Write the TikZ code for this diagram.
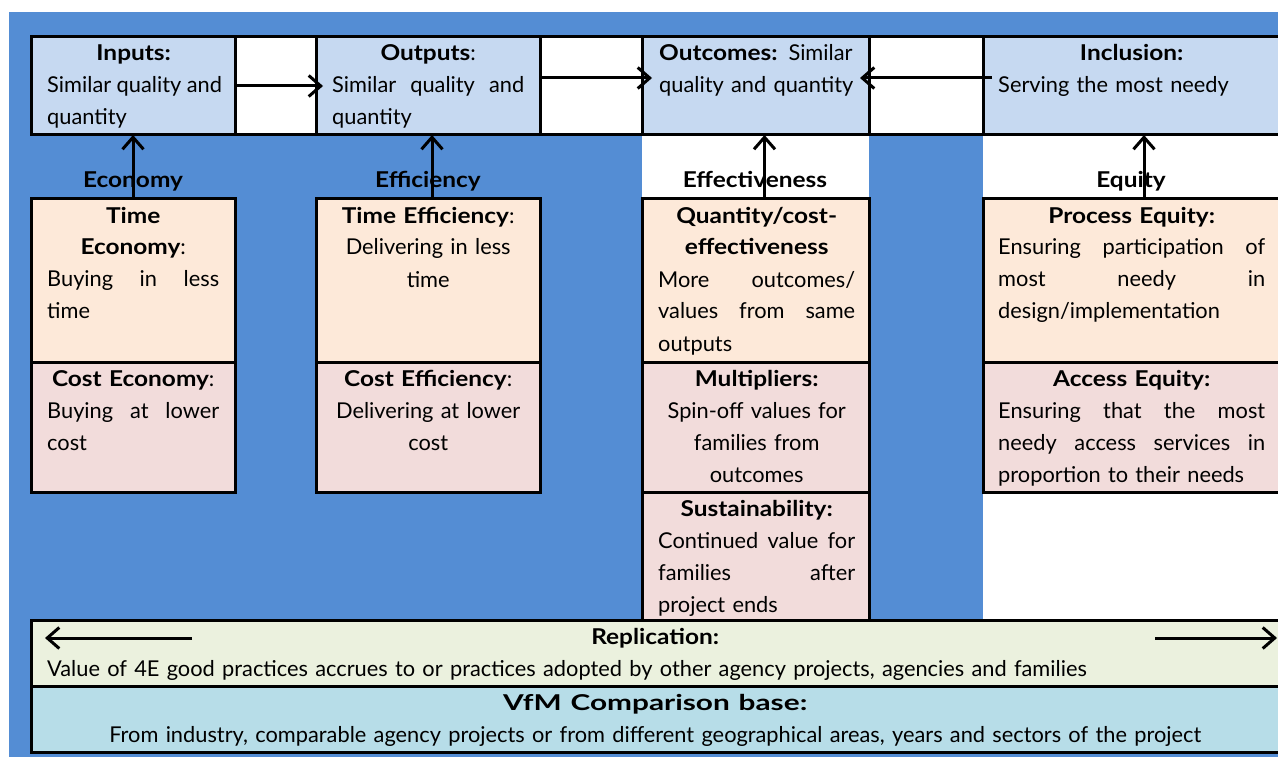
\documentclass[tikz,border=0pt]{standalone}
\usepackage{fontspec}
\setmainfont{Lato}[BoldFeatures={FakeStretch=1.12}]
\usetikzlibrary{arrows.meta}
\definecolor{bgblue}{RGB}{84,141,212}
\definecolor{lblue}{RGB}{198,217,241}
\definecolor{cpeach}{RGB}{253,233,217}
\definecolor{cpink}{RGB}{242,220,219}
\definecolor{cgreen}{RGB}{235,241,222}
\definecolor{cteal}{RGB}{183,221,232}
\newcommand{\jline}[1]{\makebox[\linewidth][s]{\spaceskip=0.25em plus 1fill\relax #1}}
\newcommand{\lline}[1]{\makebox[\linewidth][l]{#1}}
\begin{document}
\begin{tikzpicture}[x=1pt,y=-1pt,
  cell/.style={draw=black,line width=3pt,anchor=north west,inner sep=0pt,outer sep=0pt},
  txt/.style={anchor=base west,inner sep=0pt,align=center,font=\fontsize{21.8}{32}\selectfont},
  head/.style={anchor=base,inner sep=0pt,font=\fontsize{21.8}{32}\selectfont\bfseries},
  arr/.style={line width=3pt,-{Straight Barb[length=12pt,width=21pt]}}]
\useasboundingbox (0,0) rectangle (1278,757);
\clip (0,0) rectangle (1278,757);
\fill[white] (0,0) rectangle (1278,757);
\fill[bgblue] (9,12) rectangle (1278,757);
\fill[white] (642,135) rectangle (869,199);
\fill[white] (983,135) rectangle (1278,620);
% top row
\node[cell,fill=white,minimum width=1260pt,minimum height=98pt] (toprow) at (31,37) {};
\node[cell,fill=lblue,minimum width=204pt,minimum height=98pt] (inputs) at (31,37) {};
\node[cell,fill=lblue,minimum width=224pt,minimum height=98pt] (outputs) at (316,37) {};
\node[cell,fill=lblue,minimum width=227pt,minimum height=98pt] (outcomes) at (642,37) {};
\node[cell,fill=lblue,minimum width=310pt,minimum height=98pt] (inclusion) at (983,37) {};
% lower boxes
\node[cell,fill=cpeach,minimum width=204pt,minimum height=163pt] (teco) at (31,199) {};
\node[cell,fill=cpink,minimum width=204pt,minimum height=130pt] (ceco) at (31,362) {};
\node[cell,fill=cpeach,minimum width=224pt,minimum height=163pt] (teff) at (316,199) {};
\node[cell,fill=cpink,minimum width=224pt,minimum height=130pt] (ceff) at (316,362) {};
\node[cell,fill=cpeach,minimum width=227pt,minimum height=163pt] (qty) at (642,199) {};
\node[cell,fill=cpink,minimum width=227pt,minimum height=130pt] (mult) at (642,362) {};
\node[cell,fill=cpink,minimum width=227pt,minimum height=128pt] (sust) at (642,492) {};
\node[cell,fill=cpeach,minimum width=310pt,minimum height=163pt] (peq) at (983,199) {};
\node[cell,fill=cpink,minimum width=310pt,minimum height=130pt] (aeq) at (983,362) {};
\node[cell,fill=cgreen,minimum width=1260pt,minimum height=66pt] (repl) at (31,620) {};
\node[cell,fill=cteal,minimum width=1260pt,minimum height=66pt] (vfm) at (31,686) {};
% texts
\node[txt,text width=173pt] (inputsT) at (47,61) {\textbf{Inputs:}\\\jline{Similar quality and}\\\lline{quantity}};
\node[txt,text width=192pt] (outputsT) at (332,61) {\textbf{Outputs}:\\\jline{Similar quality and}\\\lline{quantity}};
\node[txt,text width=196pt] (outcomesT) at (659,61) {\jline{\textbf{Outcomes:} Similar}\\\lline{quality and quantity}};
\node[txt,text width=267pt] (inclusionT) at (998,61) {\textbf{Inclusion:}\\\lline{Serving the most needy}};
\node[txt,text width=172pt] (tecoT) at (47,223) {\textbf{Time}\\\textbf{Economy}:\\\jline{Buying in less}\\\lline{time}};
\node[txt,text width=172pt] (cecoT) at (47,386) {\textbf{Cost Economy}:\\\jline{Buying at lower}\\\lline{cost}};
\node[txt,text width=192pt] (teffT) at (332,223) {\textbf{Time Efficiency}:\\Delivering in less\\time};
\node[txt,text width=192pt] (ceffT) at (332,386) {\textbf{Cost Efficiency}:\\Delivering at lower\\cost};
\node[txt,text width=197pt] (qtyT) at (658,223) {\textbf{Quantity/cost-}\\\textbf{effectiveness}\\\jline{More outcomes/}\\\jline{values from same}\\\lline{outputs}};
\node[txt,text width=197pt] (multT) at (658,386) {\textbf{Multipliers:}\\Spin-off values for\\families from\\outcomes};
\node[txt,text width=197pt] (sustT) at (658,516) {\textbf{Sustainability:}\\\jline{Continued value for}\\\jline{families after}\\\lline{project ends}};
\node[txt,text width=267pt] (peqT) at (998,223) {\textbf{Process Equity:}\\\jline{Ensuring participation of}\\\jline{most needy in}\\\lline{design/implementation}};
\node[txt,text width=267pt] (aeqT) at (998,386) {\textbf{Access Equity:}\\\jline{Ensuring that the most}\\\jline{needy access services in}\\\lline{proportion to their needs}};
\node[txt,text width=1216pt] (replT) at (47,644) {\textbf{Replication:}\\\lline{Value of 4E good practices accrues to or practices adopted by other agency projects, agencies and families}};
\node[txt,text width=1216pt] (vfmT) at (47,710) {\scalebox{1.22}[1]{\textbf{VfM Comparison base:}}\\From industry, comparable agency projects or from different geographical areas, years and sectors of the project};
% headings
\node[head] (economyL) at (133,188) {Economy};
\node[head] (efficiencyL) at (428,188) {Efficiency};
\node[head] (effectL) at (755,188) {Effectiveness};
\node[head] (equityL) at (1131,188) {Equity};
% arrows
\draw[arr] (inputs.east) -- ([xshift=7pt]outputs.west);
\draw[arr] ([yshift=8pt]outputs.east) -- ([yshift=8pt,xshift=10pt]outcomes.west);
\draw[arr] ([yshift=8pt,xshift=9pt]inclusion.west) -- ([yshift=8pt,xshift=-9pt]outcomes.east);
\draw[arr] (teco.north) -- (inputs.south);
\draw[arr] ([xshift=4pt]teff.north) -- ([xshift=4pt]outputs.south);
\draw[arr] ([xshift=9pt]qty.north) -- ([xshift=9pt]outcomes.south);
\draw[arr] ([xshift=6pt]peq.north) -- ([xshift=6pt]inclusion.south);
\coordinate (rlA) at (192,638);
\coordinate (rlB) at (45,638);
\coordinate (rrA) at (1155,638);
\coordinate (rrB) at (1277,638);
\draw[arr] (rlA) -- (rlB);
\draw[arr] (rrA) -- (rrB);
\end{tikzpicture}
\end{document}
